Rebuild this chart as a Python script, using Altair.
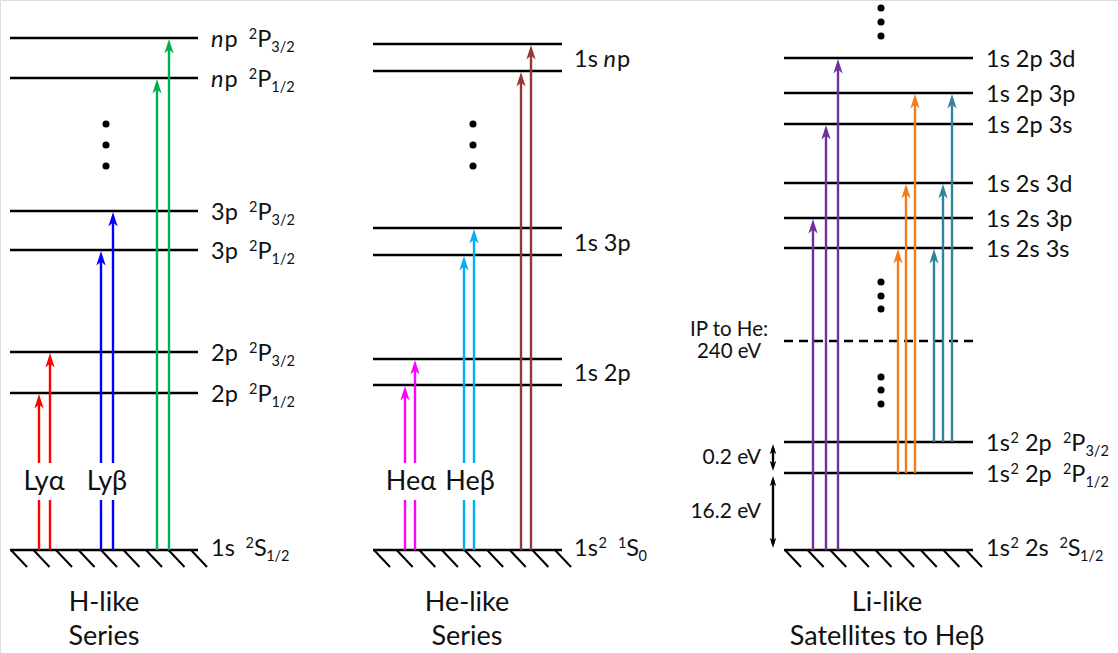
import altair as alt
import pandas as pd

W, H = 1118, 653
FONT = "Lato"

# ---------------- data (vertical positions of levels, px from top) ----------------
panel_left = [10, 373, 784]
panel_right = [198, 562, 973]
ground_y = 550

h_levels = [38, 78, 211, 250, 352, 393]
he_levels = [44, 71, 228, 255, 359, 385]
li_levels = [58, 93, 124, 183, 218, 248, 442, 473]
ip_level = 341

# transitions: x position, lower level, upper level, series
arrow_x = [39, 50, 101, 113, 157, 169,
           405, 415, 464, 474, 521, 531,
           813, 826, 838, 898, 906, 915, 934, 943, 952]
arrow_from = [550, 550, 550, 550, 550, 550,
              550, 550, 550, 550, 550, 550,
              550, 550, 550, 473, 473, 473, 442, 442, 442]
arrow_to = [393, 352, 250, 211, 78, 38,
            385, 359, 255, 228, 71, 44,
            218, 124, 58, 248, 183, 93, 248, 183, 93]
arrow_series = ["Lya", "Lya", "Lyb", "Lyb", "Lyn", "Lyn",
                "Hea", "Hea", "Heb", "Heb", "Hen", "Hen",
                "sat1", "sat1", "sat1", "sat2", "sat2", "sat2", "sat3", "sat3", "sat3"]
series_color = {"Lya": "#ff0000", "Lyb": "#0000ff", "Lyn": "#00b050",
                "Hea": "#ff00ff", "Heb": "#00b0f0", "Hen": "#953735",
                "sat1": "#7030a0", "sat2": "#f07d1a", "sat3": "#31849b"}
gap_series = ["Lya", "Lyb", "Hea", "Heb"]
gap_range = (463, 500)

series_labels = ["Lyα", "Lyβ", "Heα", "Heβ"]
series_label_x = [44, 107, 411, 470]
series_label_y = 482

dots_x = [106, 106, 106, 473, 473, 473, 881, 881, 881, 881, 881, 881, 881, 881, 881]
dots_y = [124, 145, 166, 124, 145, 166, 8, 22, 36, 282, 296, 309, 377, 390, 404]

titles_line1 = ["H-like", "He-like", "Li-like"]
titles_line2 = ["Series", "Series", "Satellites to Heβ"]
title_x = [104, 467, 887]

# level labels: pieces (text, kind)  kind: m=regular, i=italic, sup, sub, g=gap, s=space
def term(conf, sup, L, J):
    return conf + [("g", "g"), (sup, "sup"), (L, "m"), (J, "sub")]

h_label_pieces = [
    term([("n", "i"), ("p", "m")], "2", "P", "3/2"),
    term([("n", "i"), ("p", "m")], "2", "P", "1/2"),
    term([("3p", "m")], "2", "P", "3/2"),
    term([("3p", "m")], "2", "P", "1/2"),
    term([("2p", "m")], "2", "P", "3/2"),
    term([("2p", "m")], "2", "P", "1/2"),
    term([("1s", "m")], "2", "S", "1/2"),
]
h_label_y = [38, 78, 211, 250, 352, 393, 550]

he_label_pieces = [
    [("1s", "m"), (" ", "s"), ("n", "i"), ("p", "m")],
    [("1s 3p", "m")],
    [("1s 2p", "m")],
    [("1s", "m"), ("2", "sup"), ("g", "g"), ("1", "sup"), ("S", "m"), ("0", "sub")],
]
he_label_y = [57.5, 241.5, 372, 550]

li_label_pieces = [
    [("1s 2p 3d", "m")], [("1s 2p 3p", "m")], [("1s 2p 3s", "m")],
    [("1s 2s 3d", "m")], [("1s 2s 3p", "m")], [("1s 2s 3s", "m")],
    term([("1s", "m"), ("2", "sup"), (" ", "s"), ("2p", "m")], "2", "P", "3/2"),
    term([("1s", "m"), ("2", "sup"), (" ", "s"), ("2p", "m")], "2", "P", "1/2"),
    term([("1s", "m"), ("2", "sup"), (" ", "s"), ("2s", "m")], "2", "S", "1/2"),
]
li_label_y = [58, 93, 124, 183, 218, 248, 442, 473, 550]

label_start_x = [211, 574, 986]

energy_texts = ["0.2 eV", "16.2 eV"]
energy_text_y = [458, 512]
energy_arrow_from = [444, 476]
energy_arrow_to = [471, 548]
energy_arrow_x = 773
ip_texts = ["IP to He:", "240 eV"]
ip_text_y = [330, 352]

# ---------------- layout helpers ----------------
MAIN = 23.5
SMALL = 14.5
cw = {d: 0.58 for d in "0123456789"}
cw.update({"s": 0.42, "p": 0.57, "n": 0.57, "d": 0.57, "P": 0.60, "S": 0.52,
           "/": 0.38, " ": 0.22})


def width(t, fs):
    return sum(cw.get(c, 0.55) for c in t) * fs


def layout(pieces, x0, L, ground):
    base = L + (6 if ground else 9)
    rows = []
    x = x0
    for t, k in pieces:
        if k == "g":
            x += 10
            continue
        if k == "s":
            x += 6
            continue
        if k in ("m", "i"):
            rows.append(dict(x=x, y=base, t=t, fs=MAIN, it=(k == "i")))
            x += width(t, MAIN)
        elif k == "sup":
            rows.append(dict(x=x + 1, y=base - 8, t=t, fs=SMALL, it=False))
            x += width(t, SMALL) + 1
        elif k == "sub":
            rows.append(dict(x=x, y=base + 5, t=t, fs=SMALL, it=False))
            x += width(t, SMALL)
    return rows


label_rows = []
for pieces_list, ys, x0 in [(h_label_pieces, h_label_y, label_start_x[0]),
                            (he_label_pieces, he_label_y, label_start_x[1]),
                            (li_label_pieces, li_label_y, label_start_x[2])]:
    for pcs, L in zip(pieces_list, ys):
        label_rows += layout(pcs, x0, L, L == ground_y)
labels_df = pd.DataFrame(label_rows)

# ---------------- tables for marks ----------------
level_rows = []
for lv, i in [(h_levels, 0), (he_levels, 1), (li_levels, 2)]:
    for y in lv + [ground_y]:
        level_rows.append(dict(x=panel_left[i], x2=panel_right[i], y=y))
levels_df = pd.DataFrame(level_rows)

hatch_rows = []
for i in range(3):
    step = (panel_right[i] - panel_left[i] - 8) / 8
    for k in range(9):
        xt = panel_left[i] + 1 + k * step
        hatch_rows.append(dict(x=xt, y=ground_y, x2=xt + 16, y2=ground_y + 17))
hatch_df = pd.DataFrame(hatch_rows)

shaft_rows, head_rows = [], []
for x, y0, y1, s in zip(arrow_x, arrow_from, arrow_to, arrow_series):
    c = series_color[s]
    top = y1 + 8
    if s in gap_series:
        shaft_rows.append(dict(x=x, y=y0, y2=gap_range[1], c=c))
        shaft_rows.append(dict(x=x, y=gap_range[0], y2=top, c=c))
    else:
        shaft_rows.append(dict(x=x, y=y0, y2=top, c=c))
    head_rows.append(dict(x=x, y=y1 + 1, c=c))
shaft_df = pd.DataFrame(shaft_rows)
head_df = pd.DataFrame(head_rows)

eshaft_df = pd.DataFrame([dict(x=energy_arrow_x, y=a + 4, y2=b - 4)
                          for a, b in zip(energy_arrow_from, energy_arrow_to)])
ehead_rows = []
for a, b in zip(energy_arrow_from, energy_arrow_to):
    ehead_rows.append(dict(x=energy_arrow_x, y=a, ang=0))
    ehead_rows.append(dict(x=energy_arrow_x, y=b, ang=180))
ehead_df = pd.DataFrame(ehead_rows)

dots_df = pd.DataFrame(dict(x=dots_x, y=dots_y))

center_rows = []
for t, x in zip(series_labels, series_label_x):
    center_rows.append(dict(x=x, y=series_label_y, t=t, fs=27))
for t1, t2, x in zip(titles_line1, titles_line2, title_x):
    center_rows.append(dict(x=x, y=603, t=t1, fs=27))
    center_rows.append(dict(x=x, y=637, t=t2, fs=27))
for t, y in zip(ip_texts, ip_text_y):
    center_rows.append(dict(x=729, y=y, t=t, fs=20.5))
center_df = pd.DataFrame(center_rows)
right_df = pd.DataFrame(dict(x=[761, 761], y=energy_text_y, t=energy_texts, fs=[21, 21]))
dash_df = pd.DataFrame([dict(x=panel_left[2], x2=panel_right[2], y=ip_level)])

# ---------------- chart ----------------
xs = alt.Scale(domain=[0, W], nice=False, zero=False)
ys = alt.Scale(domain=[H, 0], nice=False, zero=False)
X = alt.X("x:Q", scale=xs, axis=None)
Y = alt.Y("y:Q", scale=ys, axis=None)

ARROW = "M0,0 L0.32,1 L0,0.72 L-0.32,1 Z"

levels = alt.Chart(levels_df).mark_rule(color="black", strokeWidth=2.6).encode(
    x=X, x2="x2:Q", y=Y)
hatches = alt.Chart(hatch_df).mark_rule(color="black", strokeWidth=2).encode(
    x=X, y=Y, x2="x2:Q", y2="y2:Q")
dashed = alt.Chart(dash_df).mark_rule(color="black", strokeWidth=2.4,
                                      strokeDash=[9, 6]).encode(x=X, x2="x2:Q", y=Y)
shafts = alt.Chart(shaft_df).mark_rule(strokeWidth=2.4).encode(
    x=X, y=Y, y2="y2:Q", color=alt.Color("c:N", scale=None))
heads = alt.Chart(head_df).mark_point(shape=ARROW, filled=True, size=840, opacity=1,
                                      strokeWidth=0).encode(
    x=X, y=Y, color=alt.Color("c:N", scale=None))
eshafts = alt.Chart(eshaft_df).mark_rule(color="black", strokeWidth=2.4).encode(
    x=X, y=Y, y2="y2:Q")
eheads = alt.Chart(ehead_df).mark_point(shape=ARROW, filled=True, size=420, opacity=1,
                                        color="black", strokeWidth=0).encode(
    x=X, y=Y, angle=alt.Angle("ang:Q", scale=None))
dots = alt.Chart(dots_df).mark_circle(color="black", size=50, opacity=1).encode(x=X, y=Y)

lab_reg = alt.Chart(labels_df[~labels_df.it]).mark_text(
    align="left", baseline="alphabetic", font=FONT, color="#111").encode(
    x=X, y=Y, text="t:N", size=alt.Size("fs:Q", scale=None))
lab_it = alt.Chart(labels_df[labels_df.it]).mark_text(
    align="left", baseline="alphabetic", font=FONT, fontStyle="italic", color="#111").encode(
    x=X, y=Y, text="t:N", size=alt.Size("fs:Q", scale=None))
centers = alt.Chart(center_df).mark_text(
    align="center", baseline="middle", font=FONT, color="#111").encode(
    x=X, y=Y, text="t:N", size=alt.Size("fs:Q", scale=None))
rights = alt.Chart(right_df).mark_text(
    align="right", baseline="middle", font=FONT, color="#111").encode(
    x=X, y=Y, text="t:N", size=alt.Size("fs:Q", scale=None))

chart = alt.layer(levels, hatches, dashed, shafts, heads, eshafts, eheads, dots,
                  lab_reg, lab_it, centers, rights).properties(
    width=W, height=H, autosize=alt.AutoSizeParams(type="none"), padding=0
).configure_view(stroke=None).configure(background="white")

chart.save("out.html", embed_options={"renderer": "svg", "actions": False})
